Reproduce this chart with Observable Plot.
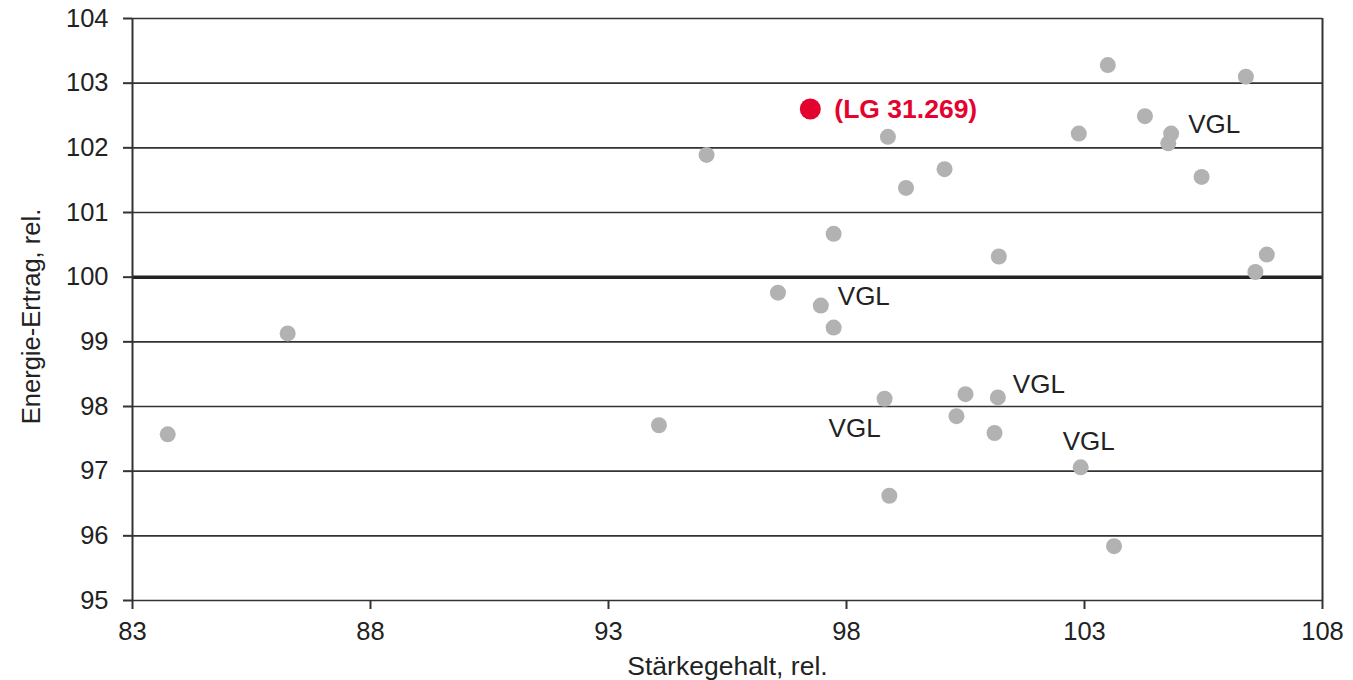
<!DOCTYPE html>
<html>
<head>
<meta charset="utf-8">
<script src="https://cdn.jsdelivr.net/npm/d3@7"></script>
<script src="https://cdn.jsdelivr.net/npm/@observablehq/plot@0.6"></script>
<style>
  html, body { margin: 0; padding: 0; background: #fff; }
  #chart svg { display: block; }
</style>
</head>
<body>
<div id="chart"></div>
<script>
// Data
const starke = [83.74, 86.26, 94.06, 95.06, 96.56, 97.46, 97.73, 97.73, 98.87, 98.80, 98.90, 99.25, 100.06, 100.31, 100.50, 101.18, 101.11, 101.20, 102.88, 102.92, 103.49, 103.62, 104.27, 104.82, 104.76, 105.46, 106.39, 106.83, 106.59];
const energie = [97.57, 99.13, 97.71, 101.89, 99.76, 99.56, 99.22, 100.67, 102.17, 98.12, 96.62, 101.38, 101.67, 97.85, 98.19, 98.14, 97.59, 100.32, 102.22, 97.06, 103.28, 95.84, 102.49, 102.22, 102.07, 101.55, 103.10, 100.35, 100.08];
const vglIndex = [23, 5, 15, 9, 19];      // points carrying a "VGL" label
const vglText = ["VGL", "VGL", "VGL", "VGL", "VGL"];
const highlightName = "(LG 31.269)";
const highlightStarke = [97.24];
const highlightEnergie = [102.60];
const xTicks = [83, 88, 93, 98, 103, 108];
const yTicks = [95, 96, 97, 98, 99, 100, 101, 102, 103, 104];
const xLabel = "Stärkegehalt, rel.";
const yLabel = "Energie-Ertrag, rel.";

const points = starke.map((x, i) => ({x, y: energie[i]}));
const vgl = vglIndex.map((k, j) => ({x: starke[k], y: energie[k], t: vglText[j]}));
const hl = highlightStarke.map((x, i) => ({x, y: highlightEnergie[i], t: highlightName}));

// label offsets (pixels) for each VGL label, in the order of vglIndex
const offs = [[17, -9, "start"], [17, -9, "start"], [15, -13, "start"], [-30, 30, "middle"], [8, -26, "middle"]];

const font = "'Liberation Sans', Arial, Helvetica, sans-serif";
const ink = "#222";

const plot = Plot.plot({
  width: 1353,
  height: 680,
  marginLeft: 132,
  marginRight: 31,
  marginTop: 18,
  marginBottom: 80,
  style: {fontFamily: font, background: "#fff", color: ink},
  x: {domain: [83, 108]},
  y: {domain: [95, 104]},
  marks: [
    Plot.ruleY(yTicks.filter(v => v !== 100), {stroke: "#333", strokeWidth: 1.6}),
    Plot.ruleY([100], {stroke: "#222", strokeWidth: 3.5}),
    Plot.ruleX([83, 108], {stroke: "#333", strokeWidth: 2}),
    Plot.axisY({ticks: yTicks, tickSize: 9, tickPadding: 15, fontSize: 25.5, tickFormat: d => String(d), label: null, stroke: "#333", strokeWidth: 2, fill: ink}),
    Plot.axisX({ticks: xTicks, tickSize: 9, tickPadding: 12, fontSize: 25.5, tickFormat: d => String(d), label: null, stroke: "#333", strokeWidth: 2, fill: ink}),
    Plot.text([xLabel], {frameAnchor: "bottom", dy: 74, fontSize: 26.5, fill: ink}),
    Plot.text([yLabel], {frameAnchor: "left", textAnchor: "middle", dx: -101, dy: 7, rotate: -90, fontSize: 25.5, fill: ink}),
    Plot.dot(points, {x: "x", y: "y", r: 8, fill: "#b2b2b2", stroke: "none"}),
    ...vgl.map((d, j) => Plot.text([d], {x: "x", y: "y", text: "t", dx: offs[j][0], dy: offs[j][1], textAnchor: offs[j][2], fontSize: 26, fill: ink})),
    Plot.dot(hl, {x: "x", y: "y", r: 10.5, fill: "#e4032e", stroke: "none"}),
    Plot.text(hl, {x: "x", y: "y", text: "t", dx: 24, textAnchor: "start", fontSize: 26.5, fontWeight: "bold", fill: "#e4032e"})
  ]
});
document.getElementById("chart").appendChild(plot);
</script>
</body>
</html>
